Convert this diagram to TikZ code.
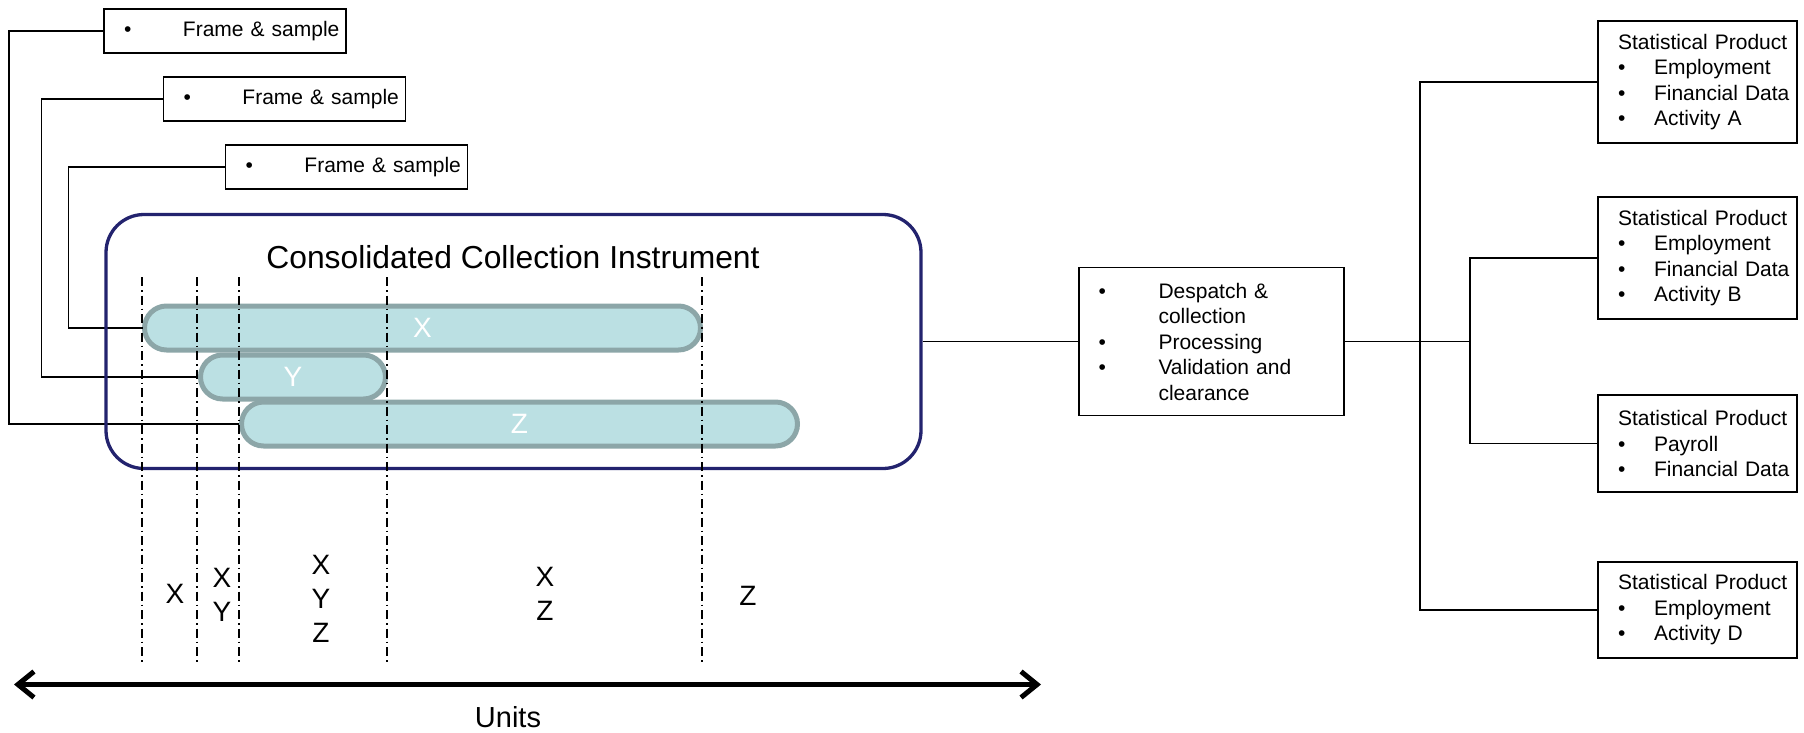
\documentclass[tikz,border=0pt]{standalone}
\usepackage{fontspec}
\setmainfont{Liberation Sans}
\usetikzlibrary{arrows.meta}
\definecolor{ccinavy}{RGB}{35,35,110}
\definecolor{pillfill}{RGB}{187,224,227}
\definecolor{pillline}{RGB}{140,166,168}
\newcommand{\itembul}[1]{\makebox[#1][l]{\textbullet}}

\begin{document}
\begin{tikzpicture}[x=1pt, y=-1pt,
  wire/.style={line width=1.5pt},
  framebox/.style={draw, line width=1.6pt, text width=242pt, minimum height=44pt, inner xsep=0pt, inner ysep=0pt, align=left, font=\fontsize{21}{25.5}\selectfont, execute at begin node={\leftskip=20pt}},
  procbox/.style={framebox, text width=265pt, minimum height=148pt, execute at begin node={\leftskip=19.5pt}},
  prodbox/.style={framebox, text width=199pt},
  ccibox/.style={draw=ccinavy, line width=3.3pt, rounded corners=38pt, minimum width=815pt, minimum height=254pt, inner sep=0pt},
  pill/.style={draw=pillline, fill=pillfill, line width=5pt, rounded corners=22pt, minimum height=44pt, inner sep=0pt, text=white, font=\fontsize{28}{34}\selectfont},
  dashdot/.style={line width=1.5pt, dash pattern=on 9pt off 4pt on 1.5pt off 4pt},
  seglabel/.style={align=center, inner sep=0pt, font=\fontsize{28}{34}\selectfont},
  axis/.style={line width=5pt, {Straight Barb[length=16pt,width=26pt]}-{Straight Barb[length=16pt,width=26pt]}}]
\useasboundingbox (0,0) rectangle (1804,732);

\node[framebox] (frame1) at (225,31) {\itembul{59pt}Frame \& sample};
\node[framebox] (frame2) at (284.5,99) {\itembul{59pt}Frame \& sample};
\node[framebox] (frame3) at (346.5,167) {\itembul{59pt}Frame \& sample};

\node[pill, minimum width=556pt] (pillX) at (422.5,328) {X};
\node[pill, minimum width=185pt] (pillY) at (293,377) {Y};
\node[pill, minimum width=556pt] (pillZ) at (519.5,424) {Z};

\draw[wire] (frame1.west) -- ++(-94,0) |- (pillZ.west);
\draw[wire] (frame2.west) -- ++(-121,0) |- (pillY.west);
\draw[wire] (frame3.west) -- ++(-156,0) |- (pillX.west);

\node[ccibox] (cci) at (513.5,341.5) {};
\node[inner sep=0pt, font=\fontsize{31.8}{38}\selectfont] (ccititle) at (513,257) {Consolidated Collection Instrument};

\foreach \x in {142,197,239,387,702}
  \draw[dashdot] (\x,277) -- (\x,665);

\node[seglabel] (segX) at (175,594) {X};
\node[seglabel] (segXY) at (222,595) {X\\Y};
\node[seglabel] (segXYZ) at (321,599) {X\\Y\\Z};
\node[seglabel] (segXZ) at (545,594) {X\\Z};
\node[seglabel] (segZ) at (748,596) {Z};

\coordinate (axisL) at (14,684.5);
\coordinate (axisR) at (1041,684.5);
\draw[axis] (axisL) -- (axisR);
\node[inner sep=0pt, font=\fontsize{29}{35}\selectfont] (units) at (508,717) {Units};

\node[procbox] (proc) at (1211.5,341.5) {\itembul{60pt}Despatch \&\\ \hspace*{60pt}collection\\ \itembul{60pt}Processing\\ \itembul{60pt}Validation and\\ \hspace*{60pt}clearance};
\draw[wire] (cci.east) -- (proc.west);

\node[prodbox, minimum height=122pt] (prodA) at (1697.5,82) {Statistical Product\\ \itembul{36pt}Employment\\ \itembul{36pt}Financial Data\\ \itembul{36pt}Activity A};
\node[prodbox, minimum height=122pt] (prodB) at (1697.5,258) {Statistical Product\\ \itembul{36pt}Employment\\ \itembul{36pt}Financial Data\\ \itembul{36pt}Activity B};
\node[prodbox, minimum height=97pt] (prodC) at (1697.5,443.5) {Statistical Product\\ \itembul{36pt}Payroll\\ \itembul{36pt}Financial Data};
\node[prodbox, minimum height=96pt] (prodD) at (1697.5,610) {Statistical Product\\ \itembul{36pt}Employment\\ \itembul{36pt}Activity D};

\coordinate (hub) at (1471,341.5);
\draw[wire] (proc.east) -- (hub);
\draw[wire] (prodA.west) -- ++(-177,0) |- (prodD.west);
\draw[wire] (prodB.west) -- ++(-127,0) |- (prodC.west);
\end{tikzpicture}
\end{document}
